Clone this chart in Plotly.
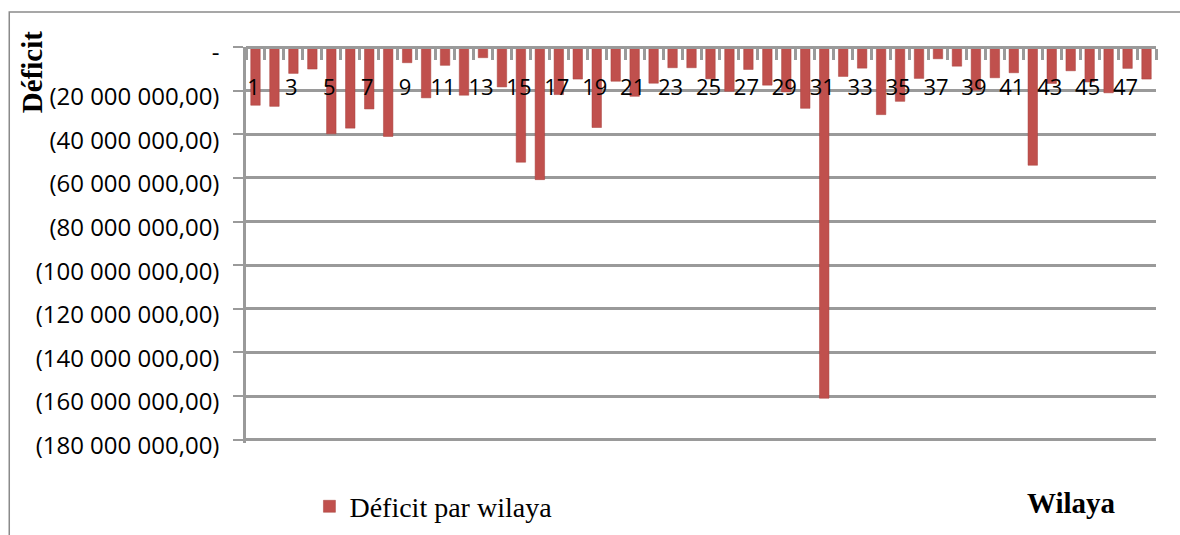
import plotly.graph_objects as go

wilayas = list(range(1, 49))
deficit_millions = [26.7, 27.2, 12.1, 10.1, 39.8, 37.2, 28.4, 41.0, 7.2, 23.3, 8.4, 22.1,
                    4.9, 18.3, 52.8, 60.8, 21.8, 14.7, 36.9, 15.7, 22.6, 16.6, 9.5, 9.5,
                    14.6, 20.3, 10.3, 17.5, 20.6, 28.1, 161.0, 13.5, 9.7, 31.0, 24.9, 14.4,
                    5.4, 8.8, 19.8, 14.1, 11.8, 54.2, 16.7, 10.9, 16.0, 21.0, 9.8, 14.7]
deficit = [-v * 1e6 for v in deficit_millions]

y_tick_vals = [0, -20e6, -40e6, -60e6, -80e6, -100e6, -120e6, -140e6, -160e6, -180e6]
y_tick_text = ["-", "(20 000 000,00)", "(40 000 000,00)", "(60 000 000,00)", "(80 000 000,00)",
               "(100 000 000,00)", "(120 000 000,00)", "(140 000 000,00)", "(160 000 000,00)",
               "(180 000 000,00)"]
x_tick_vals = list(range(1, 49, 2))

W, H = 1180, 535
Y_MIN = -181.5e6
L, R, T = 245.5, 1156.5, 46.5
B = T + (440 - T) * (-Y_MIN) / 180e6

def px(x):
    return (x - L) / (R - L)

def py(y):
    return (B - y) / (B - T)

fig = go.Figure()
fig.add_trace(go.Bar(
    x=wilayas, y=deficit, name="Déficit par wilaya",
    marker=dict(color="#C0504D", line=dict(color="#A8403D", width=0.5)),
    width=0.5,
))

fig.update_layout(
    width=W, height=H,
    margin=dict(l=L, r=W - R, t=T, b=H - B, autoexpand=False),
    paper_bgcolor="white", plot_bgcolor="white",
    showlegend=True,
    legend=dict(orientation="h", x=px(309), y=py(507), xanchor="left", yanchor="middle",
                font=dict(family="Liberation Serif", size=28, color="black"),
                itemwidth=30),
    xaxis=dict(
        range=[0.5, 48.5], anchor="free", position=1, side="bottom",
        tickvals=x_tick_vals, ticktext=[str(v) for v in x_tick_vals],
        ticks="", showgrid=False, zeroline=False, showline=True,
        linecolor="#9a9a9a", linewidth=2.5,
        ticklabelstandoff=20, ticklabelshift=-2,
        tickfont=dict(family="Open Sans", size=22, color="black"),
        minor=dict(ticks="outside", tick0=0.5, dtick=1, ticklen=11, tickwidth=2.5,
                   tickcolor="#9a9a9a", showgrid=False),
    ),
    yaxis=dict(
        range=[Y_MIN, 0], tickvals=y_tick_vals, ticktext=y_tick_text,
        showgrid=True, gridcolor="#9a9a9a", gridwidth=2.5,
        zeroline=False, showline=True, linecolor="#9a9a9a", linewidth=2.5,
        ticks="outside", ticklen=10, tickwidth=2, tickcolor="#9a9a9a",
        ticklabelstandoff=9, ticklabelshift=6,
        tickfont=dict(family="Open Sans", size=24, color="black"),
    ),
)

fig.add_shape(type="rect", xref="paper", yref="paper",
              x0=px(8.5), x1=px(1190), y0=py(545), y1=py(11.5),
              line=dict(color="#8a8a8a", width=1.5), layer="below")

fig.add_annotation(text="<b>Déficit</b>", xref="paper", yref="paper",
                   x=px(32), y=py(72), xanchor="center", yanchor="middle",
                   textangle=-90, showarrow=False,
                   font=dict(family="Liberation Serif", size=29, color="black"))
fig.add_annotation(text="<b>Wilaya</b>", xref="paper", yref="paper",
                   x=px(1072), y=py(503), xanchor="center", yanchor="middle",
                   showarrow=False,
                   font=dict(family="Liberation Serif", size=29, color="black"))

fig.write_html("out.html", config={"displayModeBar": False},
               post_script="document.body.style.margin='0';document.body.style.overflow='hidden';")
